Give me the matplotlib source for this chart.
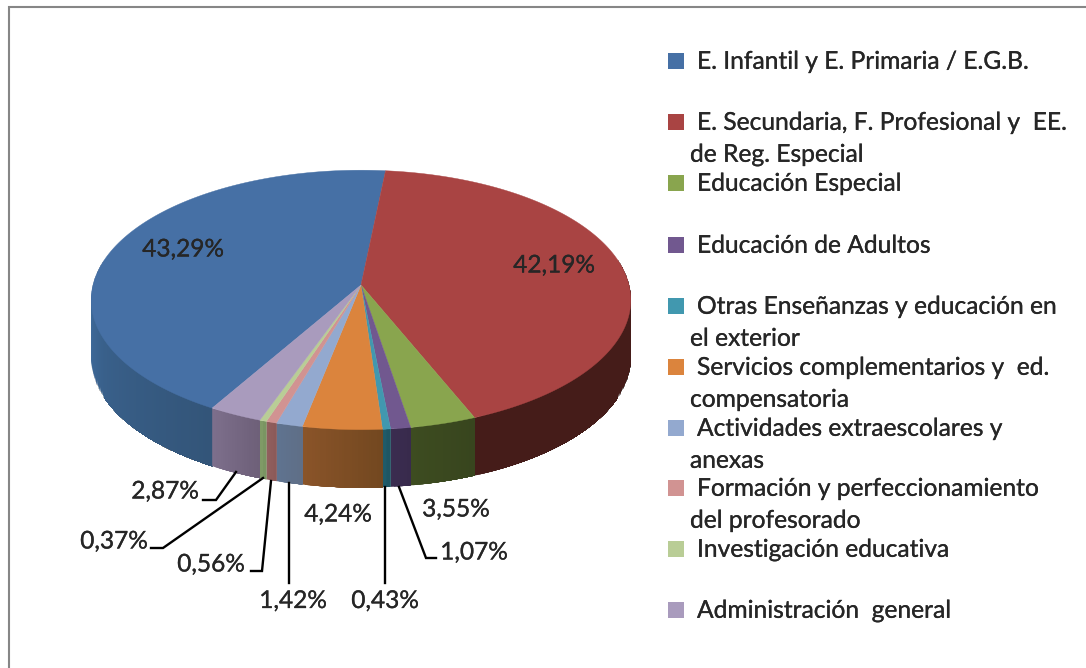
import numpy as np
import matplotlib
matplotlib.use("Agg")
import matplotlib.pyplot as plt
import matplotlib.patheffects as pe

# Share of each budget item, in %
values = [43.29, 42.19, 3.55, 1.07, 0.43, 4.24, 1.42, 0.56, 0.37, 2.87]
legend_lines = [
    ["E. Infantil y E. Primaria / E.G.B."],
    ["E. Secundaria, F. Profesional y  EE.", "de Reg. Especial"],
    ["Educación Especial"],
    ["Educación de Adultos"],
    ["Otras Enseñanzas y educación en", "el exterior"],
    ["Servicios complementarios y  ed.", "compensatoria"],
    ["Actividades extraescolares y", "anexas"],
    ["Formación y perfeccionamiento", "del profesorado"],
    ["Investigación educativa"],
    ["Administración  general"],
]
top_colors = ["#4670a5", "#a94443", "#89a54e", "#71588f", "#4198af",
              "#db843d", "#93a9cf", "#d19392", "#b9cd96", "#a99bbd"]
wall_left = ["#3f6b9c", "#451c19", "#3d4c20", "#3b2d50", "#1f5b69",
             "#8a5429", "#5f7390", "#915f5e", "#7f9a66", "#7d6f8c"]
wall_right = ["#335579", "#451c19", "#38451e", "#382a4c", "#1e5663",
              "#734820", "#5f6f87", "#8c5a59", "#7a9562", "#6e6079"]
legend_y = [61.3, 122.3, 183.3, 245.3, 306.3, 367.3, 428.3, 488.3, 549.3, 610.3]
# label centres and leader lines, in picture pixels
label_pos = [(183, 250), (554, 266), (456, 510), (474, 553), (385, 601.5),
             (338, 515), (293, 601.5), (211, 565), (114, 542), (165, 492)]
leaders = {
    3: [(436, 558), (426, 558), (399, 487)],
    4: [(385, 583), (385, 487)],
    6: [(289, 583), (289, 483)],
    7: [(251, 571), (262, 571), (271, 481)],
    8: [(151, 548), (163, 548), (263, 478)],
    9: [(203, 500), (216, 500), (236, 472)],
}

START = 210.0  # degrees clockwise from the back of the pie
CX, CY = 361, 285
RX, RY, K = 268, 128, 0.115
DEPTH = 58
FONT = "Lato"
TEXT = "#262626"
HEAVY = [pe.withStroke(linewidth=0.2, foreground=TEXT)]


def project(angle_deg, r=1.0):
    # disc point to screen, with a little perspective
    a = np.radians(angle_deg)
    u = r * np.sin(a)
    v = r * np.cos(a)
    w = 1 + K * v
    return CX + RX * u / w, CY - RY * v / w


def main():
    fig = plt.figure(figsize=(10.86, 6.68), dpi=100, facecolor="white")
    ax = fig.add_axes([0, 0, 1, 1])
    ax.set_xlim(0, 1086)
    ax.set_ylim(668, 0)
    ax.axis("off")

    # outer frame
    ax.plot([9, 9, 1086], [668, 7, 7], color="#868686", lw=1.5, solid_joinstyle="miter")

    edges = START + np.concatenate([[0], np.cumsum(values)]) / sum(values) * 360

    # side wall: each strip runs to the slice end, the next one paints over it
    for i in range(len(values)):
        angles = np.linspace(edges[i], edges[i + 1], max(int(edges[i + 1] - edges[i]) * 2, 2) + 1)
        visible = angles[np.cos(np.radians(angles)) < 0.2]
        if len(visible) < 2:
            continue
        c0 = np.array(matplotlib.colors.to_rgb(wall_left[i]))
        c1 = np.array(matplotlib.colors.to_rgb(wall_right[i]))
        # walk from left to right on screen
        xs, ys = project(visible)
        order = np.argsort(xs)
        xs, ys = xs[order], ys[order]
        for j in range(len(xs) - 1):
            f = j / max(len(xs) - 2, 1)
            col = c0 + (c1 - c0) * f
            ax.fill(np.r_[xs[j:], xs[j:][::-1]], np.r_[ys[j:], ys[j:][::-1] + DEPTH],
                    color=col, lw=0)

    # top of the pie
    for i in range(len(values)):
        angles = np.linspace(edges[i], edges[i + 1], 200)
        xs, ys = project(angles)
        ax.fill(np.r_[CX, xs], np.r_[CY, ys], color=top_colors[i], lw=0.3)

    # leader lines
    for pts in leaders.values():
        ax.plot([p[0] for p in pts], [p[1] for p in pts], color="black", lw=1.7,
                solid_joinstyle="miter")

    # data labels
    for v, (x, y) in zip(values, label_pos):
        ax.text(x, y, f"{v:.2f}".replace(".", ",") + "%", ha="center", va="center",
                fontsize=17.6, family=FONT, color=TEXT, path_effects=HEAVY)

    # legend
    for lines, y, col in zip(legend_lines, legend_y, top_colors):
        ax.fill([668, 684, 684, 668], [y - 8, y - 8, y + 8, y + 8], color=col, lw=0)
        ax.text(697, y, lines[0], ha="left", va="center", fontsize=17.7, family=FONT,
                color=TEXT, path_effects=HEAVY)
        if len(lines) > 1:
            ax.text(690, y + 32, lines[1], ha="left", va="center", fontsize=17.7,
                    family=FONT, color=TEXT, path_effects=HEAVY)

    fig.savefig("out.png", dpi=100, facecolor="white")


if __name__ == "__main__":
    main()
